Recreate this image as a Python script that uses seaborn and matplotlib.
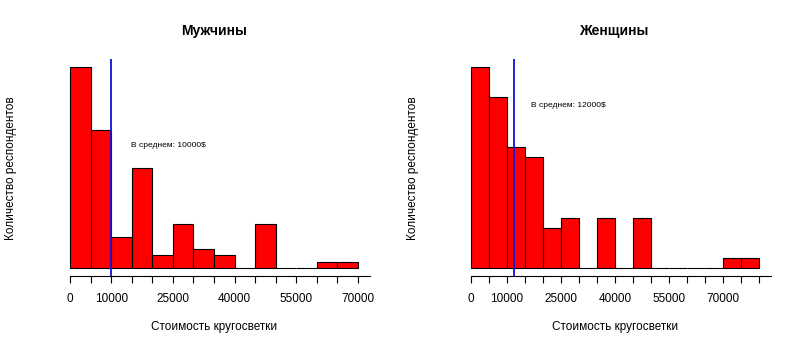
import numpy as np
import pandas as pd
import seaborn as sns
import matplotlib.pyplot as plt

# counts per 5000$ bin
men_bins = [0, 5000, 10000, 15000, 20000, 25000, 30000, 35000,
            40000, 45000, 50000, 55000, 60000, 65000, 70000]
men_counts = [32, 22, 5, 16, 2, 7, 3, 2, 0, 7, 0, 0, 1, 1]
men_mean = 10000

women_bins = [0, 5000, 10000, 15000, 20000, 25000, 30000, 35000, 40000,
              45000, 50000, 55000, 60000, 65000, 70000, 75000, 80000]
women_counts = [20, 17, 12, 11, 4, 5, 0, 5, 0, 5, 0, 0, 0, 0, 1, 1]
women_mean = 12000

shown_ticks = [0, 10000, 25000, 40000, 55000, 70000]

titles = ["Мужчины", "Женщины"]
xlabel = "Стоимость кругосветки"
ylabel = "Количество респондентов"

sns.set_style("white")
plt.rcParams['font.family'] = ['Liberation Sans', 'DejaVu Sans']
plt.rcParams['text.color'] = 'black'
plt.rcParams['xtick.color'] = 'black'
plt.rcParams['axes.labelcolor'] = 'black'

fig = plt.figure(figsize=(8, 3.5), dpi=100)
panels = [
    (men_bins, men_counts, men_mean, (24000, 19.5), 0.0731),
    (women_bins, women_counts, women_mean, (27000, 16.2), 0.5744),
]

for i, (bins, counts, mean, txt_pos, left) in enumerate(panels):
    ax = fig.add_axes([left, 0.2114, 0.3888, 0.62])
    df = pd.DataFrame({'start': bins[:-1], 'n': counts})
    sns.histplot(data=df, x='start', weights='n', bins=bins, ax=ax,
                 color='#ff0000', edgecolor='black', linewidth=0.8, alpha=1)

    # R-like 4% padding
    span = bins[-1] - bins[0]
    ax.set_xlim(bins[0] - 0.04 * span, bins[-1] + 0.04 * span)
    top = max(counts)
    ax.set_ylim(-0.04 * top, 1.04 * top)

    ax.axvline(mean, color='#1010dd', linewidth=1.3)
    ax.text(txt_pos[0], txt_pos[1], f"В среднем: {mean}$", fontsize=6,
            ha='center', va='center', color='black')

    ax.set_xticks(bins)
    ax.set_xticklabels([str(b) if b in shown_ticks else '' for b in bins],
                       fontsize=8.5, color='black')
    ax.tick_params(axis='x', length=5, width=0.8, color='black',
                   pad=7, bottom=True)
    ax.set_yticks([])
    ax.set_xlabel('')
    ax.set_ylabel('')
    for s in ['left', 'right', 'top']:
        ax.spines[s].set_visible(False)
    ax.spines['bottom'].set_color('black')
    ax.spines['bottom'].set_linewidth(0.8)
    ax.spines['bottom'].set_bounds(bins[0], bins[-1] + 0.04 * span)

    ax.set_title(titles[i], fontsize=10, fontweight='bold', pad=17,
                 color='black')

    cx = left + 0.3888 / 2
    fig.text(cx, 1 - 327 / 350, xlabel, ha='center', va='center',
             fontsize=8.5, color='black')
    fig.text(left - 47 / 800, 1 - 168 / 350, ylabel, ha='center',
             va='center', rotation=90, fontsize=8.5, color='black')

fig.savefig("out.png", dpi=100)
